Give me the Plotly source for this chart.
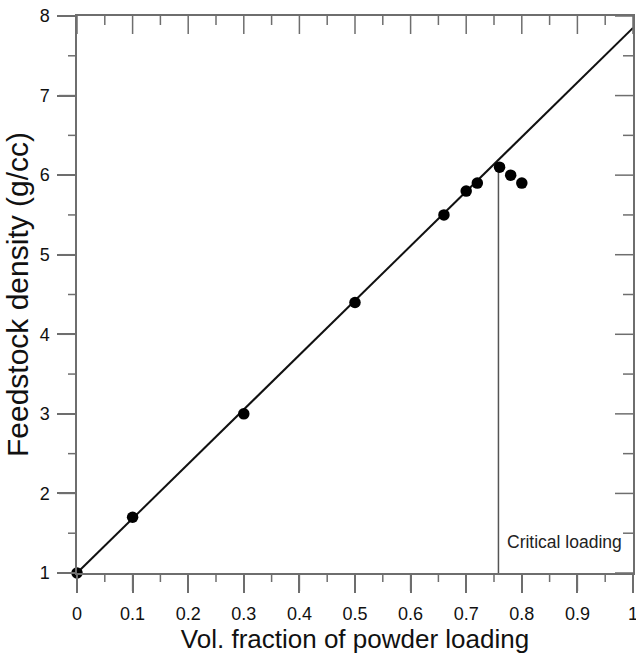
import plotly.graph_objects as go

# Measured feedstock density vs. powder loading
loading = [0.0, 0.1, 0.3, 0.5, 0.66, 0.70, 0.72, 0.76, 0.78, 0.80]
density = [1.0, 1.7, 3.0, 4.4, 5.5, 5.8, 5.9, 6.1, 6.0, 5.9]

# Rule-of-mixtures line across the full loading range
mix_x = [0.0, 1.0]
mix_y = [1.0, 7.85]

# Critical loading marker
critical_x = 0.758
critical_top = 6.12

# Tick positions
x_major = [0, 0.1, 0.2, 0.3, 0.4, 0.5, 0.6, 0.7, 0.8, 0.9, 1]
x_minor = [0.05, 0.15, 0.25, 0.35, 0.45, 0.55, 0.65, 0.75, 0.85, 0.95]
y_major = [1, 2, 3, 4, 5, 6, 7, 8]
y_minor = [1.5, 2.5, 3.5, 4.5, 5.5, 6.5, 7.5]

FONT = "Liberation Sans, Arial, Helvetica, sans-serif"
AXIS = "#6e6e6e"
MAJOR_LEN = 18
MINOR_LEN = 9

fig = go.Figure()

fig.add_trace(go.Scatter(
    x=mix_x, y=mix_y, mode="lines", cliponaxis=False,
    line=dict(color="#111111", width=2), showlegend=False, hoverinfo="skip",
))
fig.add_trace(go.Scatter(
    x=[critical_x, critical_x], y=[1, critical_top], mode="lines",
    line=dict(color="#555555", width=1.5), showlegend=False, hoverinfo="skip",
))
fig.add_trace(go.Scatter(
    x=loading, y=density, mode="markers", cliponaxis=False,
    marker=dict(color="black", size=11.5), showlegend=False,
))

fig.add_annotation(
    x=0.877, y=1.39, xref="x", yref="y", text="Critical loading",
    showarrow=False, font=dict(family=FONT, size=17.5, color="#222222"),
)

tick_line = dict(color=AXIS, width=1.5)


def x_tick(v, length, top):
    # bottom ticks point out (down), top ticks point in (down from the top edge)
    return dict(type="line", xref="x", yref="paper", ysizemode="pixel",
                yanchor=1 if top else 0, x0=v, x1=v, y0=0, y1=-length,
                line=tick_line, layer="above")


def y_tick(v, length, right):
    # left ticks point out (leftwards), right ticks point in (leftwards)
    return dict(type="line", yref="y", xref="paper", xsizemode="pixel",
                xanchor=1 if right else 0, y0=v, y1=v, x0=0, x1=-length,
                line=tick_line, layer="above")


shapes = []
for top in (False, True):
    shapes += [x_tick(v, MAJOR_LEN, top) for v in x_major]
    shapes += [x_tick(v, MINOR_LEN, top) for v in x_minor]
for right in (False, True):
    shapes += [y_tick(v, MAJOR_LEN, right) for v in y_major]
    shapes += [y_tick(v, MINOR_LEN + (1 if right else 0), right) for v in y_minor]

fig.update_xaxes(
    range=[0, 1], tickvals=x_major,
    showgrid=False, zeroline=False, showline=True, mirror=True,
    linecolor=AXIS, linewidth=1.5,
    ticks="outside", ticklen=MAJOR_LEN, tickwidth=1.5, tickcolor=AXIS,
    ticklabelstandoff=6, ticklabeloverflow="allow",
    tickfont=dict(size=18),
    title=dict(text="Vol. fraction of powder loading", font=dict(size=26), standoff=5),
    automargin=False,
)
fig.update_yaxes(
    range=[1, 8], tickvals=y_major,
    showgrid=False, zeroline=False, showline=True, mirror=True,
    linecolor=AXIS, linewidth=1.5,
    ticks="outside", ticklen=MAJOR_LEN, tickwidth=1.5, tickcolor=AXIS,
    ticklabelstandoff=4,
    tickfont=dict(size=18),
    title=dict(text="Feedstock density (g/cc)", font=dict(size=30), standoff=2),
    automargin=False,
)

fig.update_layout(
    width=636, height=654,
    margin=dict(l=77, r=3, t=16, b=81),
    paper_bgcolor="white", plot_bgcolor="white",
    font=dict(family=FONT, color="#111111"),
    shapes=shapes,
)

fig.write_html("out.html")
